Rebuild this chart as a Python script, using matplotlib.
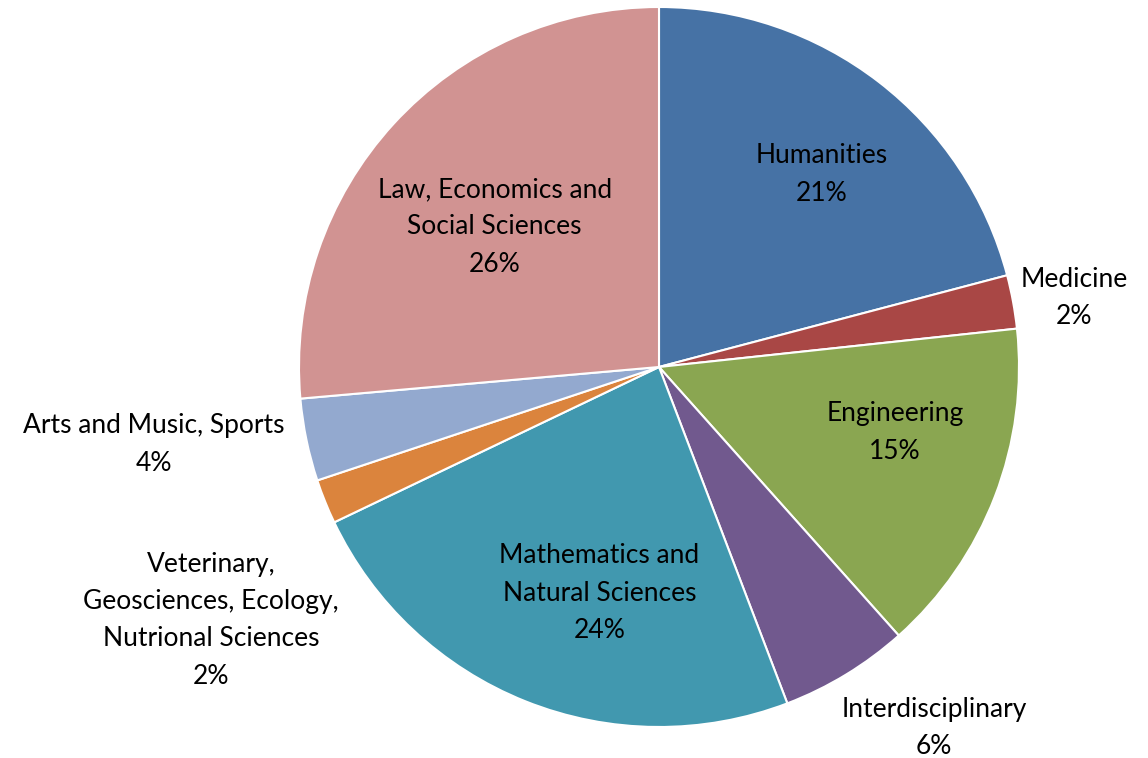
import numpy as np
import matplotlib.pyplot as plt

# DATA
names = ["Humanities", "Medicine", "Engineering", "Interdisciplinary",
         "Mathematics and\nNatural Sciences",
         "Veterinary,\nGeosciences, Ecology,\nNutrional Sciences",
         "Arts and Music, Sports", "Law, Economics and\nSocial Sciences"]
shares = [20.9, 2.4, 15.1, 5.8, 23.7, 2.0, 3.7, 26.4]

colors = ["#4672A5", "#A94745", "#8AA651", "#71598E", "#4198AF",
          "#DB843D", "#93A9CF", "#D19392"]

# label placement: distance from centre (in radii) and angle nudge (deg)
lab_dist = [0.70, 1.17, 0.68, 1.26, 0.65, 1.43, 1.42, 0.60]
lab_nudge = [-2.6, -1, 5.5, 6, 7, 7.5, -3, 2]

plt.rcParams['font.family'] = ['Lato', 'DejaVu Sans']

fig = plt.figure(figsize=(11.48, 7.58), dpi=100)
ax = fig.add_axes([299/1148, 31/758, 720/1148, 720/758])

wedges, _ = ax.pie(shares, colors=colors, startangle=90, counterclock=False,
                   radius=1.0, wedgeprops=dict(edgecolor="white", linewidth=1.5))

for w, name, val, d, nd in zip(wedges, names, shares, lab_dist, lab_nudge):
    ang = np.deg2rad((w.theta1 + w.theta2) / 2 + nd)
    x = d * np.cos(ang)
    y = d * np.sin(ang)
    ax.text(x, y, "%s\n%d%%" % (name, round(val)), ha="center", va="center",
            fontsize=19, linespacing=1.62, color="black")

ax.set_xlim(-1, 1)
ax.set_ylim(-1, 1)
ax.set_aspect("equal")
ax.axis("off")

fig.savefig("out.png", dpi=100)
